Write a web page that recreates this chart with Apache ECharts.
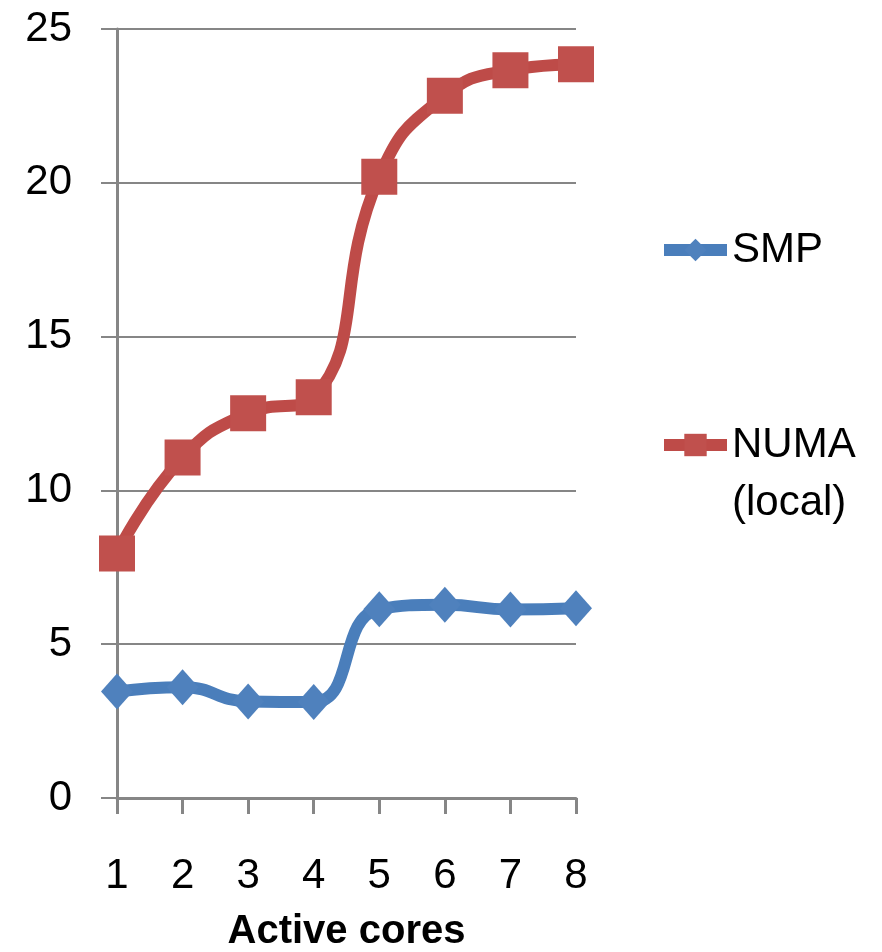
<!DOCTYPE html>
<html>
<head>
<meta charset="utf-8">
<script src="https://cdn.jsdelivr.net/npm/echarts@6/dist/echarts.min.js"></script>
<style>
  html, body { margin: 0; padding: 0; background: #ffffff; }
  #chart { width: 882px; height: 952px; }
</style>
</head>
<body>
<div id="chart"></div>
<script>
// Active core counts on the category axis
const cores = ['1', '2', '3', '4', '5', '6', '7', '8'];
// Measured values per configuration
const smpValues = [3.46, 3.60, 3.14, 3.12, 6.14, 6.28, 6.13, 6.17];
const numaValues = [7.95, 11.07, 12.51, 13.03, 20.20, 22.83, 23.66, 23.85];
// Value axis range and step
const yMin = 0;
const yMax = 25;
const yStep = 5;

const FONT = '"Liberation Sans", Arial, sans-serif';
const GRAY = '#868686';

const chart = echarts.init(document.getElementById('chart'), null, { renderer: 'canvas' });

chart.setOption({
  animation: false,
  backgroundColor: '#ffffff',
  grid: {
    left: 117, right: 306, top: 29, bottom: 154,
    containLabel: false,
    outerBoundsMode: 'none'
  },
  legend: [
    {
      data: ['SMP'],
      orient: 'vertical',
      left: 653,
      top: 224,
      itemWidth: 63,
      itemHeight: 28,
      lineStyle: { width: 12 },
      textStyle: { fontFamily: FONT, fontSize: 42, color: '#000000' }
    },
    {
      data: ['NUMA (local)'],
      orient: 'vertical',
      left: 653,
      top: 361,
      itemWidth: 63,
      itemHeight: 28,
      lineStyle: { width: 12 },
      // blank first line keeps "NUMA" level with the icon, "(local)" wraps below
      formatter: function () { return '{s| }\n{t|NUMA}\n{t|(local)}'; },
      textStyle: {
        fontFamily: FONT, fontSize: 42, color: '#000000',
        rich: {
          s: { fontFamily: FONT, fontSize: 42, lineHeight: 58 },
          t: { fontFamily: FONT, fontSize: 42, lineHeight: 58, color: '#000000' }
        }
      }
    }
  ],
  xAxis: {
    type: 'category',
    data: cores,
    boundaryGap: false,
    name: 'Active cores',
    nameLocation: 'middle',
    nameGap: 114,
    nameTextStyle: { fontFamily: FONT, fontSize: 40, fontWeight: 'bold', color: '#000000' },
    axisLine: { show: true, lineStyle: { color: GRAY, width: 3 } },
    axisTick: { show: true, alignWithLabel: true, length: 16, lineStyle: { color: GRAY, width: 3 } },
    axisLabel: { fontFamily: FONT, fontSize: 42, color: '#000000', margin: 57 },
    splitLine: { show: false }
  },
  yAxis: {
    type: 'value',
    min: yMin,
    max: yMax,
    interval: yStep,
    axisLine: { show: true, lineStyle: { color: GRAY, width: 3 } },
    axisTick: { show: true, length: 16, lineStyle: { color: GRAY, width: 2 } },
    axisLabel: { fontFamily: FONT, fontSize: 42, color: '#000000', margin: 45 },
    splitLine: { show: true, lineStyle: { color: GRAY, width: 2 } }
  },
  series: [
    {
      name: 'SMP',
      type: 'line',
      data: smpValues,
      smooth: 0.5,
      symbol: 'diamond',
      symbolSize: [32, 36],
      lineStyle: { color: '#4A7EBB', width: 12 },
      itemStyle: { color: '#4F81BD' },
      z: 3
    },
    {
      name: 'NUMA (local)',
      type: 'line',
      data: numaValues,
      smooth: 0.5,
      symbol: 'rect',
      symbolSize: 36,
      lineStyle: { color: '#BE4B48', width: 12 },
      itemStyle: { color: '#C0504D' },
      z: 3
    }
  ]
});
</script>
</body>
</html>
